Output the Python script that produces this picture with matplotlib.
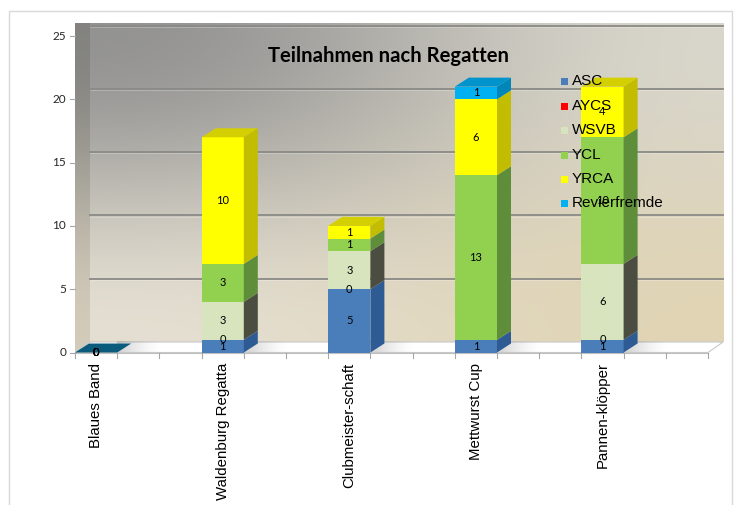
import numpy as np
import matplotlib
matplotlib.use('Agg')
import matplotlib.pyplot as plt
from matplotlib.patches import Polygon, Rectangle

# ---------------- data ----------------
categories = ['Blaues Band', 'Waldenburg Regatta', 'Clubmeister-schaft',
              'Mettwurst Cup', 'Pannen-klöpper']
series_names = ['ASC', 'AYCS', 'WSVB', 'YCL', 'YRCA', 'Revierfremde']
asc = [0, 1, 5, 1, 1]
aycs = [0, 0, 0, None, 0]
wsvb = [0, 3, 3, None, 6]
ycl = [0, 3, 1, 13, 10]
yrca = [0, 10, 1, 6, 4]
revierfremde = [0, None, None, 1, None]
y_ticks = [0, 5, 10, 15, 20, 25]
title = 'Teilnahmen nach Regatten'

series_values = [asc, aycs, wsvb, ycl, yrca, revierfremde]
front_colors = ['#4a7ebb', '#ff0000', '#d7e4bd', '#92d050', '#ffff00', '#00b0f0']
side_colors = ['#2f5b94', '#b00000', '#4b4d40', '#5f8e3a', '#c2bd00', '#0086b8']
top_colors = ['#3b6aa5', '#d00000', '#b8c4a0', '#7ab040', '#d4cf00', '#0093cc']

# ---------------- figure ----------------
W, H = 740, 505
fig = plt.figure(figsize=(W / 100, H / 100), dpi=100)
fig.patch.set_facecolor('white')

x0_px, x1_px = 75, 708
y0_px, y1_px = 352.5, 36
ax = fig.add_axes([x0_px / W, (H - y0_px) / H, (x1_px - x0_px) / W, (y0_px - y1_px) / H])
ax.set_xlim(0, 5)
ax.set_ylim(0, 25)
ax.axis('off')

pxx = (x1_px - x0_px) / 5.0
pxy = (y0_px - y1_px) / 25.0
dxw, dyw = 15 / pxx, 10.5 / pxy      # wall depth
dxb, dyb = 14 / pxx, 9 / pxy          # bar depth
bw = 1 / 3.0
wall_top = 25 + dyw + 0.15

# back wall gradient
grad = np.array([[[0.55, 0.55, 0.55], [0.86, 0.85, 0.81]],
                 [[0.91, 0.89, 0.84], [0.88, 0.83, 0.70]]])
ax.imshow(grad, extent=[dxw, 5 + dxw, dyw, wall_top], aspect='auto',
          interpolation='bicubic', origin='upper', zorder=0, clip_on=False)

# left side wall
side_grad = np.array([[[0.50, 0.50, 0.49]], [[0.84, 0.81, 0.74]]])
im = ax.imshow(side_grad, extent=[0, dxw, 0, wall_top], aspect='auto',
               interpolation='bicubic', origin='upper', zorder=0.5, clip_on=False)
side_poly = Polygon([(0, 0), (dxw, dyw), (dxw, wall_top), (0, wall_top - dyw)],
                    closed=True, facecolor='none', edgecolor='none', transform=ax.transData)
ax.add_patch(side_poly)
im.set_clip_path(side_poly)

# floor
floor = Polygon([(0, 0), (5, 0), (5 + dxw, dyw), (dxw, dyw)], closed=True,
                facecolor='white', edgecolor='#c8c8c8', lw=0.8, zorder=1, clip_on=False)
ax.add_patch(floor)

# soft shadows of bars on the floor
shadow = np.zeros((1, 64, 4))
shadow[..., :3] = 0.55
shadow[0, :, 3] = np.linspace(0.55, 0.0, 64) ** 1.5
for i in range(len(categories)):
    sim = ax.imshow(shadow, extent=[i + bw, i + bw + 45 / pxx, 0, dyw], aspect='auto',
                    interpolation='bilinear', zorder=1.1, clip_on=False)
    sim.set_clip_path(floor)

# gridlines on wall
for t in y_ticks[1:]:
    ax.plot([dxw, 5 + dxw], [t + dyw, t + dyw], color='#8a8a86', lw=1.3, zorder=1, clip_on=False)
    ax.plot([dxw, 5 + dxw], [t + dyw - 0.1, t + dyw - 0.1], color='#ffffff', lw=0.5,
            alpha=0.35, zorder=1, clip_on=False)

# axes: ticks
ax.plot([0, 5], [0, 0], color='#bfbfbf', lw=0.8, zorder=1.2, clip_on=False)
for k in range(16):
    ax.plot([k / 3, k / 3], [0, -5 / pxy], color='#a6a6a6', lw=0.8, zorder=1.2, clip_on=False)
for t in y_ticks:
    ax.plot([-5 / pxx, 0], [t, t], color='#a6a6a6', lw=0.8, zorder=1.2, clip_on=False)
    ax.text(-9 / pxx, t, str(t), ha='right', va='center', fontsize=8.5,
            family='Lato', color='#262626')

# bars
for i, cat in enumerate(categories):
    bottom = 0.0
    top_idx = None
    segs = []
    for s, vals in enumerate(series_values):
        v = vals[i]
        if v is None:
            continue
        segs.append((s, v, bottom))
        bottom += v
        top_idx = s
    for s, v, b in segs:
        if v > 0:
            ax.bar(i, v, bottom=b, width=bw, align='edge', color=front_colors[s],
                   edgecolor='none', zorder=3, clip_on=False)
            ax.add_patch(Polygon([(i + bw, b), (i + bw + dxb, b + dyb),
                                  (i + bw + dxb, b + v + dyb), (i + bw, b + v)],
                                 closed=True, facecolor=side_colors[s], edgecolor='none',
                                 zorder=3, clip_on=False))
    total = bottom
    tcol = top_colors[top_idx] if total > 0 else '#0b5c7c'
    ax.add_patch(Polygon([(i, total), (i + dxb, total + dyb), (i + bw + dxb, total + dyb),
                          (i + bw, total)], closed=True, facecolor=tcol, edgecolor='none',
                         zorder=3.1, clip_on=False))
    for s, v, b in segs:
        ax.text(i + bw / 2, b + v / 2, str(v), ha='center', va='center', fontsize=8,
                family='Lato', color='black', zorder=6)
    # category label
    ax.text(i + bw / 2, -10 / pxy, cat, rotation=90, ha='center', va='top',
            fontsize=10.8, family='Liberation Sans', color='black', clip_on=False)

# title
fig.text(388 / W, 1 - 56 / H, title, ha='center', va='center', fontsize=14.6,
         fontweight='bold', family='Lato', color='black')

# legend
leg_y = [81, 106, 130, 155, 179, 203]
for s, name in enumerate(series_names):
    yy = 1 - leg_y[s] / H
    fig.add_artist(Rectangle((561 / W, yy - 3.5 / H), 7 / W, 7 / H, transform=fig.transFigure,
                             facecolor=front_colors[s], edgecolor='none', zorder=10))
    fig.text(572 / W, yy, name, ha='left', va='center', fontsize=11,
             family='Liberation Sans', color='black', zorder=10)

# outer frame
fig.add_artist(Rectangle((9 / W, -0.05), (732 - 9) / W, (H - 11) / H + 0.05,
                         transform=fig.transFigure, fill=False, edgecolor='#d9d9d9', lw=1))

fig.savefig('out.png', dpi=100)
